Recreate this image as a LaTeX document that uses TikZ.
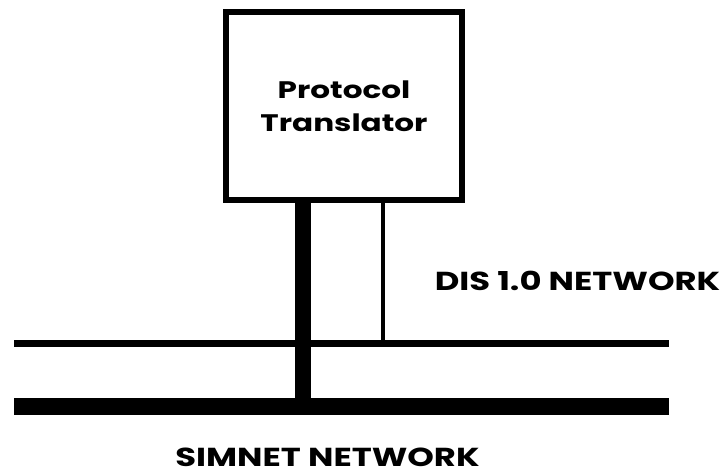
\documentclass[tikz,border=0pt]{standalone}
\usepackage{fontspec}
\setmainfont{Poppins}[FakeStretch=1.3]
\usetikzlibrary{positioning}
\tikzset{
net/.style={
    x=0.025cm,
    y=-0.025cm,
    font=\bfseries
},
ptbox/.style={
    rectangle,
    draw,
    line width=4.5pt,
    minimum width=5.9cm,
    minimum height=4.7cm,
    align=center,
    font=\fontsize{17}{23.5}\selectfont\bfseries
},
netlabel/.style={
    inner sep=0pt,
    font=\fontsize{18.5}{22}\selectfont\bfseries
},
disbus/.style={
    line width=4.5pt
},
simbus/.style={
    line width=12pt
},
dislink/.style={
    line width=3pt
},
simlink/.style={
    line width=11.5pt
}}
\begin{document}
\begin{tikzpicture}[net]
\useasboundingbox (0,0) rectangle (727,474);
\node[ptbox]      (pt)     at (344,106)     {Protocol\\Translator};
\node[netlabel]   (dislbl) at (577.5,281)   {DIS 1.0 NETWORK};
\node[netlabel]   (simlbl) at (327.5,457.5) {SIMNET NETWORK};

\coordinate (disw)   at (14,343.5);
\coordinate (dise)   at (669,343.5);
\coordinate (simw)   at (14,406.5);
\coordinate (sime)   at (669,406.5);
\coordinate (distap) at (383,343.5);
\coordinate (simtap) at (303,406.5);

\path    (disw)              edge[disbus]     (dise);
\path    (simw)              edge[simbus]     (sime);
\path    (pt.south -| distap) edge[dislink]   (distap);
\path    (pt.south -| simtap) edge[simlink]   (simtap);
\end{tikzpicture}
\end{document}
